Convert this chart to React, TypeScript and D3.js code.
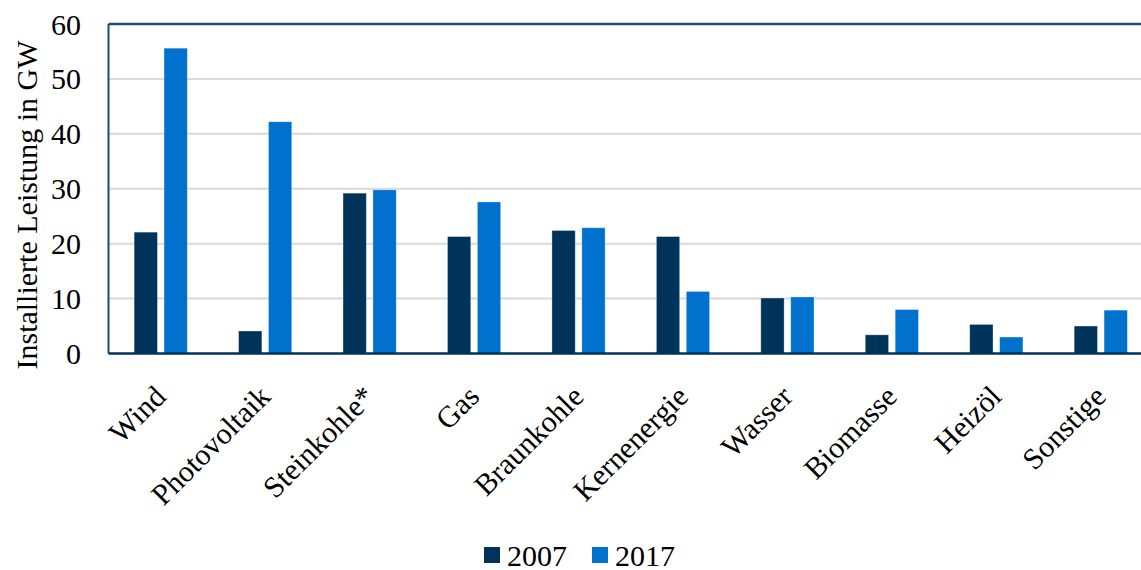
import React, { useEffect } from "react";
import * as d3 from "d3";

const categories = ["Wind", "Photovoltaik", "Steinkohle*", "Gas", "Braunkohle", "Kernenergie", "Wasser", "Biomasse", "Heizöl", "Sonstige"];
const values2007 = [22.1, 4.1, 29.2, 21.3, 22.4, 21.3, 10.1, 3.4, 5.3, 5.0];
const values2017 = [55.6, 42.2, 29.8, 27.6, 22.9, 11.3, 10.3, 8.0, 3.0, 7.9];
const seriesNames = ["2007", "2017"];
const yTicks = [0, 10, 20, 30, 40, 50, 60];

const W = 1141;
const H = 570;
const margin = { left: 108.5, top: 24, right: -12, bottom: 216.5 };
const colors = ["#003359", "#0072CE"];
const font = "'Liberation Serif', 'Times New Roman', serif";
const fs = 30;

export default function App() {
  useEffect(() => {
    document.body.style.margin = "0";
  }, []);

  const x0 = margin.left;
  const x1 = W - margin.right;
  const y0 = margin.top;
  const y1 = H - margin.bottom;

  const x = d3.scaleBand<string>().domain(categories).range([x0, x1]).paddingInner(0).paddingOuter(0);
  const y = d3.scaleLinear().domain([0, 60]).range([y1, y0]);
  const barW = 23.3;
  const gap = 6.6;

  const series = [values2007, values2017];

  return (
    <svg width={W} height={H} style={{ display: "block", fontFamily: font }}>
      <rect x={0} y={0} width={W} height={H} fill="#fff" />
      {yTicks.filter((t) => t > 0 && t < 60).map((t) => (
        <line key={t} x1={x0} x2={x1} y1={y(t)} y2={y(t)} stroke="#d9d9d9" strokeWidth={2} />
      ))}
      {series.map((vals, si) =>
        categories.map((c, i) => {
          const cx = (x(c) as number) + x.bandwidth() / 2;
          const bx = si === 0 ? cx - gap / 2 - barW : cx + gap / 2;
          return (
            <rect
              key={`${si}-${c}`}
              x={bx}
              y={y(vals[i])}
              width={barW}
              height={y(0) - y(vals[i])}
              fill={colors[si]}
              stroke="#ffffff"
              strokeOpacity={0.4}
              strokeWidth={0.8}
            />
          );
        })
      )}
      {/* plot border */}
      <line x1={x0} x2={x1} y1={y0} y2={y0} stroke="#1b4a78" strokeWidth={2.5} />
      <line x1={x0} x2={x0} y1={y0} y2={y1} stroke="#1b4a78" strokeWidth={2} />
      <line x1={x0} x2={x1} y1={y1} y2={y1} stroke="#003359" strokeWidth={2.5} />
      {yTicks.map((t) => (
        <text key={t} x={81} y={y(t)} dy="0.35em" textAnchor="end" fontSize={fs} fill="#000">
          {t}
        </text>
      ))}
      <text
        transform={`translate(26,205) rotate(-90)`}
        textAnchor="middle"
        dy="0.35em"
        fontSize={fs}
        fill="#000"
      >
        Installierte Leistung in GW
      </text>
      {categories.map((c) => {
        const cx = (x(c) as number) + x.bandwidth() / 2;
        return (
          <text
            key={c}
            transform={`translate(${cx - 8},${y1 + 30}) rotate(-45)`}
            textAnchor="end"
            dy="0.7em"
            fontSize={fs}
            fill="#000"
          >
            {c}
          </text>
        );
      })}
      {/* legend */}
      <g>
        <rect x={484} y={547} width={16} height={16} fill={colors[0]} />
        <text x={507} y={555} dy="0.35em" fontSize={fs} fill="#000">{seriesNames[0]}</text>
        <rect x={592} y={547} width={16} height={16} fill={colors[1]} />
        <text x={615} y={555} dy="0.35em" fontSize={fs} fill="#000">{seriesNames[1]}</text>
      </g>
    </svg>
  );
}
